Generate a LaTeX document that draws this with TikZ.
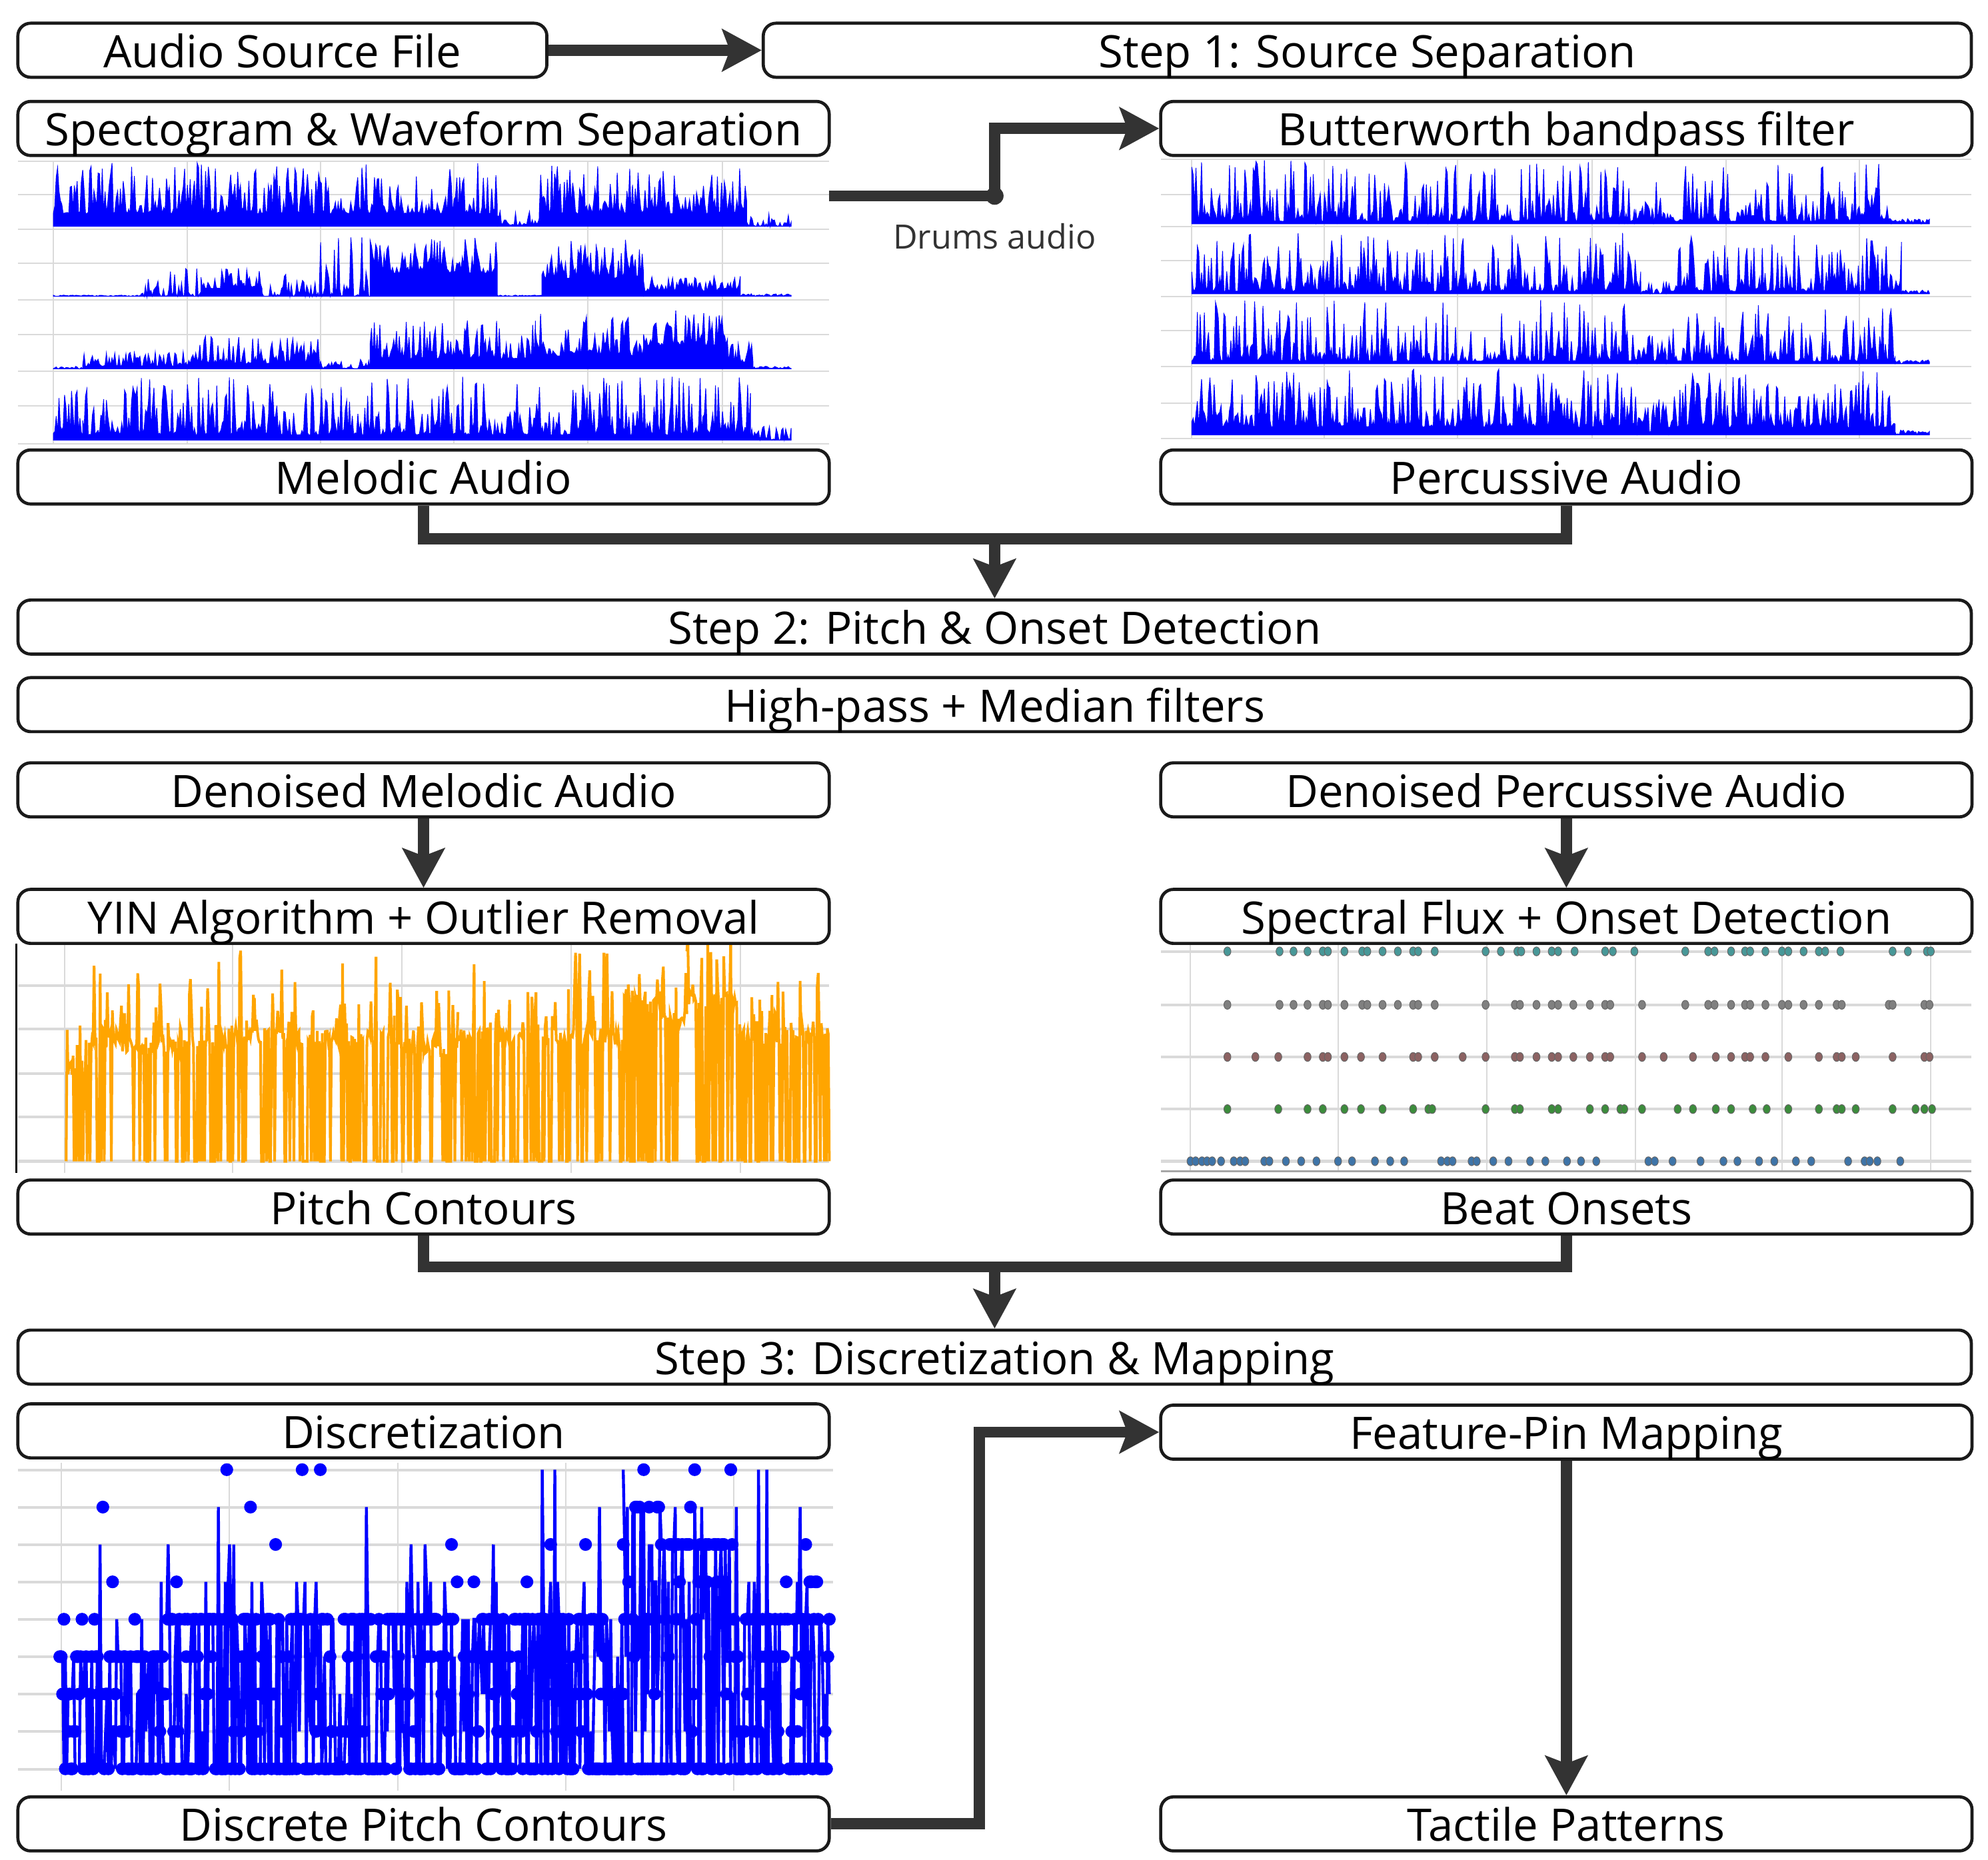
\documentclass[tikz,border=0pt]{standalone}
\usepackage{fontspec}
\setmainfont{Open Sans}
\usepackage{tikz}
\usetikzlibrary{arrows.meta}
\usetikzlibrary{positioning}
\definecolor{mgray}{RGB}{51, 51, 51}
\definecolor{mblack}{RGB}{26, 26, 26}
\definecolor{lgray}{RGB}{218, 218, 218}
\definecolor{wblue}{RGB}{0, 0, 255}
\definecolor{porange}{RGB}{255, 165, 0}
\definecolor{oteal}{RGB}{72, 152, 152}
\definecolor{ogray}{RGB}{128, 128, 128}
\definecolor{obrown}{RGB}{140, 98, 98}
\definecolor{ogreen}{RGB}{60, 140, 60}
\definecolor{oblue}{RGB}{62, 116, 168}
\tikzset{stage/.style = {draw = mblack, fill = white, line width = 1.4pt, rounded corners = 0.2cm, inner sep = 0, minimum height = 0.85cm, text height = 19.5pt, text depth = 4pt, font = \fontsize{20}{24}\selectfont}}
\tikzset{half/.style = {stage, minimum width = 12.76cm}}
\tikzset{full/.style = {stage, minimum width = 30.72cm}}
\tikzset{conn/.style = {draw = mgray, line width = 5pt}}
\tikzset{arr/.style = {conn, -{Stealth[length = 0.62cm, width = 0.66cm, inset = 0.12cm]}}}
\tikzset{gridline/.style = {draw = lgray, line width = 0.6pt}}
\tikzset{wave/.style = {fill = wblue, draw = wblue, line width = 0.3pt}}
\tikzset{pitchline/.style = {draw = porange, line width = 1.2pt}}
\tikzset{discline/.style = {draw = wblue, line width = 1.3pt, mark = *, mark size = 2.2pt, mark options = {fill = wblue, draw = wblue}}}
\tikzset{onsetdot/.style = {draw = black!60, line width = 0.3pt}}

\begin{document}
\begin{tikzpicture}[x = 0.02cm, y = -0.02cm]
    \useasboundingbox (0, 0) rectangle (1563, 1461.9);
    \pgfmathsetseed{7}

    % separated waveforms
    \foreach \x in {42, 147, 252, 357, 462, 568} \draw [gridline] (\x, 127) -- (\x, 349);
    \foreach \y in {127, 153, 180, 207, 236, 263, 292, 319, 349} \draw [gridline] (14, \y) -- (652, \y);
    \foreach \x in {937, 1041, 1146, 1252, 1357, 1462} \draw [gridline] (\x, 125) -- (\x, 345);
    \foreach \y in {125, 153, 178, 205, 233, 260, 288, 317, 345} \draw [gridline] (913, \y) -- (1550, \y);
    \foreach \base/\segs in {
        178/{42/391/10/50/2.5, 391/424/1/12/3, 424/587/10/48/2.5, 587/622/0/10/3},
        233/{42/110/0/1/1, 110/158/0/22/4, 158/206/6/22/2, 206/251/0/18/4, 251/291/0/50/4, 291/391/18/46/2, 391/426/0/1/1, 426/506/14/45/2, 506/582/4/16/2, 582/622/0/2/1},
        290/{42/65/0/2/1, 65/155/2/14/2, 155/251/4/26/2, 251/291/0/8/2, 291/421/8/38/2, 421/426/0/48/1, 426/506/10/42/2, 506/572/18/46/2, 572/592/5/22/2, 592/622/0/2/1},
        346/{42/65/3/40/2, 65/590/4/50/2.5, 590/622/0/12/2},
        176/{937/1285/2/50/3, 1285/1300/2/25/2, 1300/1487/2/48/3, 1487/1517/0/4/1},
        231/{937/1290/2/48/3, 1290/1310/0/10/2, 1310/1495/2/46/3, 1495/1517/0/3/1},
        286/{937/1287/2/50/3, 1287/1310/2/22/2, 1310/1490/2/46/3, 1490/1517/0/3/1},
        342/{937/1287/6/52/2.5, 1287/1312/2/28/2, 1312/1490/6/50/2.5, 1490/1517/0/4/1}}
      \foreach \a/\b/\lo/\hi/\p in \segs {
        \pgfmathtruncatemacro\n{(\b - \a)/1.1 + 2}
        \fill [wave] (\a, \base) -- plot [domain = \a:\b, samples = \n] (\x, {\base - \lo - (\hi - \lo)*rnd^\p}) -- (\b, \base) -- cycle;
      }

    % pitch track
    \foreach \x in {51, 183, 316, 449, 582} \draw [gridline] (\x, 742) -- (\x, 922);
    \foreach \y in {775, 809, 844, 878, 913} \draw [gridline, line width = 1.2pt] (14, \y) -- (652, \y);
    \draw [black, line width = 0.8pt] (13, 742) -- (13, 922);
    \foreach \a/\b/\lev in {52/70/842, 70/180/821, 180/200/812, 200/310/816, 310/360/824, 360/490/816, 490/520/784, 520/540/803, 540/580/786, 580/652/816} {
      \pgfmathtruncatemacro\n{(\b - \a)/0.8 + 2}
      \draw [pitchline] plot [domain = \a:\b, samples = \n] (\x, {ifthenelse(rnd < 0.3, 913, \lev + 12*(rnd - 0.5) - 65*rnd^6)});
    }

    % onset rows
    \foreach \x in {936, 1052, 1169, 1286, 1401, 1518} \draw [gridline] (\x, 742) -- (\x, 921);
    \foreach \y in {748, 790, 831, 872, 913} \draw [gridline, line width = 1.2pt] (913, \y) -- (1550, \y);
    \draw [draw = black!35, line width = 0.8pt] (913, 921) -- (1550, 921);
    \foreach \y/\col/\xs in {
        748/oteal/{965, 1006, 1017, 1028, 1040, 1044, 1057, 1071, 1075, 1087, 1099, 1111, 1115, 1128, 1168, 1180, 1193, 1196, 1208, 1220, 1225, 1238, 1262, 1268, 1285, 1325, 1343, 1348, 1361, 1372, 1376, 1388, 1401, 1406, 1418, 1430, 1435, 1447, 1488, 1500, 1515, 1518},
        790/ogray/{965, 1006, 1017, 1028, 1040, 1044, 1057, 1071, 1075, 1087, 1099, 1111, 1115, 1128, 1168, 1191, 1195, 1208, 1220, 1225, 1237, 1250, 1262, 1266, 1291, 1325, 1343, 1348, 1361, 1372, 1376, 1388, 1401, 1406, 1418, 1430, 1444, 1448, 1485, 1488, 1513, 1517},
        831/obrown/{965, 987, 1005, 1028, 1040, 1044, 1057, 1070, 1087, 1111, 1115, 1128, 1150, 1168, 1191, 1195, 1208, 1220, 1225, 1237, 1250, 1262, 1266, 1291, 1308, 1331, 1349, 1361, 1372, 1376, 1388, 1406, 1430, 1444, 1448, 1459, 1488, 1513, 1517},
        872/ogreen/{965, 1005, 1028, 1040, 1057, 1070, 1087, 1111, 1123, 1126, 1168, 1191, 1195, 1220, 1225, 1250, 1262, 1274, 1277, 1291, 1319, 1331, 1349, 1361, 1378, 1389, 1406, 1430, 1444, 1448, 1459, 1488, 1506, 1513, 1519},
        913/oblue/{936, 940, 945, 949, 953, 960, 970, 975, 979, 994, 998, 1011, 1023, 1035, 1052, 1063, 1081, 1093, 1104, 1133, 1138, 1142, 1157, 1161, 1174, 1186, 1203, 1215, 1232, 1243, 1255, 1296, 1301, 1315, 1337, 1355, 1366, 1383, 1395, 1412, 1424, 1453, 1466, 1470, 1476, 1494}}
      \foreach \x in \xs
        \filldraw [onsetdot, fill = \col] (\x, \y) ellipse [x radius = 0.055cm, y radius = 0.07cm];

    % discrete levels
    \foreach \x in {48, 180, 313, 445, 577} \draw [gridline] (\x, 1150) -- (\x, 1408);
    \foreach \k in {0, ..., 8} \draw [gridline, line width = 1.2pt] (14, 1155.7 + 29.4*\k) -- (655, 1155.7 + 29.4*\k);
    \foreach \a/\b/\c in {47/130/3, 130/490/4, 490/520/7, 520/580/6, 580/652/4} {
      \pgfmathtruncatemacro\n{(\b - \a)/1.1 + 2}
      \draw [discline] plot [domain = \a:\b, samples = \n] (\x, {1390.7 - 29.4*ifthenelse(rnd < 0.35, 0, ifthenelse(rnd < 0.88, \c - floor(\c*rnd^2), min(8, \c + 1 + floor(4*rnd^2))))});
    }

    % stages
    \node [stage, minimum width = 8.32cm] (src) at (222, 39.5) {Audio Source File};
    \node [stage, minimum width = 19cm] (step1) at (1075, 39.5) {Step 1: Source Separation};
    \node [half] (spec) at (333, 101) {Spectogram \& Waveform Separation};
    \node [half] (butter) at (1231.5, 101) {Butterworth bandpass filter};
    \node [half] (melodic) at (333, 375) {Melodic Audio};
    \node [half] (percussive) at (1231.5, 375) {Percussive Audio};
    \node [full] (step2) at (782, 493) {Step 2: Pitch \& Onset Detection};
    \node [full] (highpass) at (782, 554) {High-pass + Median filters};
    \node [half] (denmel) at (333, 621) {Denoised Melodic Audio};
    \node [half] (denperc) at (1231.5, 621) {Denoised Percussive Audio};
    \node [half] (yin) at (333, 720.5) {YIN Algorithm + Outlier Removal};
    \node [half] (flux) at (1231.5, 720.5) {Spectral Flux + Onset Detection};
    \node [half] (pitch) at (333, 949) {Pitch Contours};
    \node [half] (beat) at (1231.5, 949) {Beat Onsets};
    \node [full] (step3) at (782, 1067) {Step 3: Discretization \& Mapping};
    \node [half] (disc) at (333, 1125) {Discretization};
    \node [half] (fpm) at (1231.5, 1126) {Feature-Pin Mapping};
    \node [half] (dpc) at (333, 1434) {Discrete Pitch Contours};
    \node [half] (tactile) at (1231.5, 1434) {Tactile Patterns};

    \coordinate (drumsout) at (652, 154);
    \coordinate (drumsbend) at (782, 154);
    \coordinate (join1) at (782, 423.5);
    \coordinate (join2) at (782, 996);
    \coordinate (pinbend) at (770, 1126);
    \node [font = \fontsize{15}{18}\selectfont, text = mgray] (drumslabel) at (782, 186) {Drums audio};

    \draw [arr] (src) -- (step1);
    \draw [conn] (drumsout) -- (drumsbend);
    \draw [arr] (drumsbend) |- (butter.west);
    \fill [mgray] (drumsbend) circle [radius = 0.14cm];
    \draw [conn] (melodic.south) |- (join1) -| (percussive.south);
    \draw [arr] (join1) -- (step2.north);
    \draw [arr] (denmel) -- (yin);
    \draw [arr] (denperc) -- (flux);
    \draw [conn] (pitch.south) |- (join2) -| (beat.south);
    \draw [arr] (join2) -- (step3.north);
    \draw [arr] (dpc.east) -| (pinbend) -- (fpm.west);
    \draw [arr] (fpm) -- (tactile);
  \end{tikzpicture}
\end{document}
